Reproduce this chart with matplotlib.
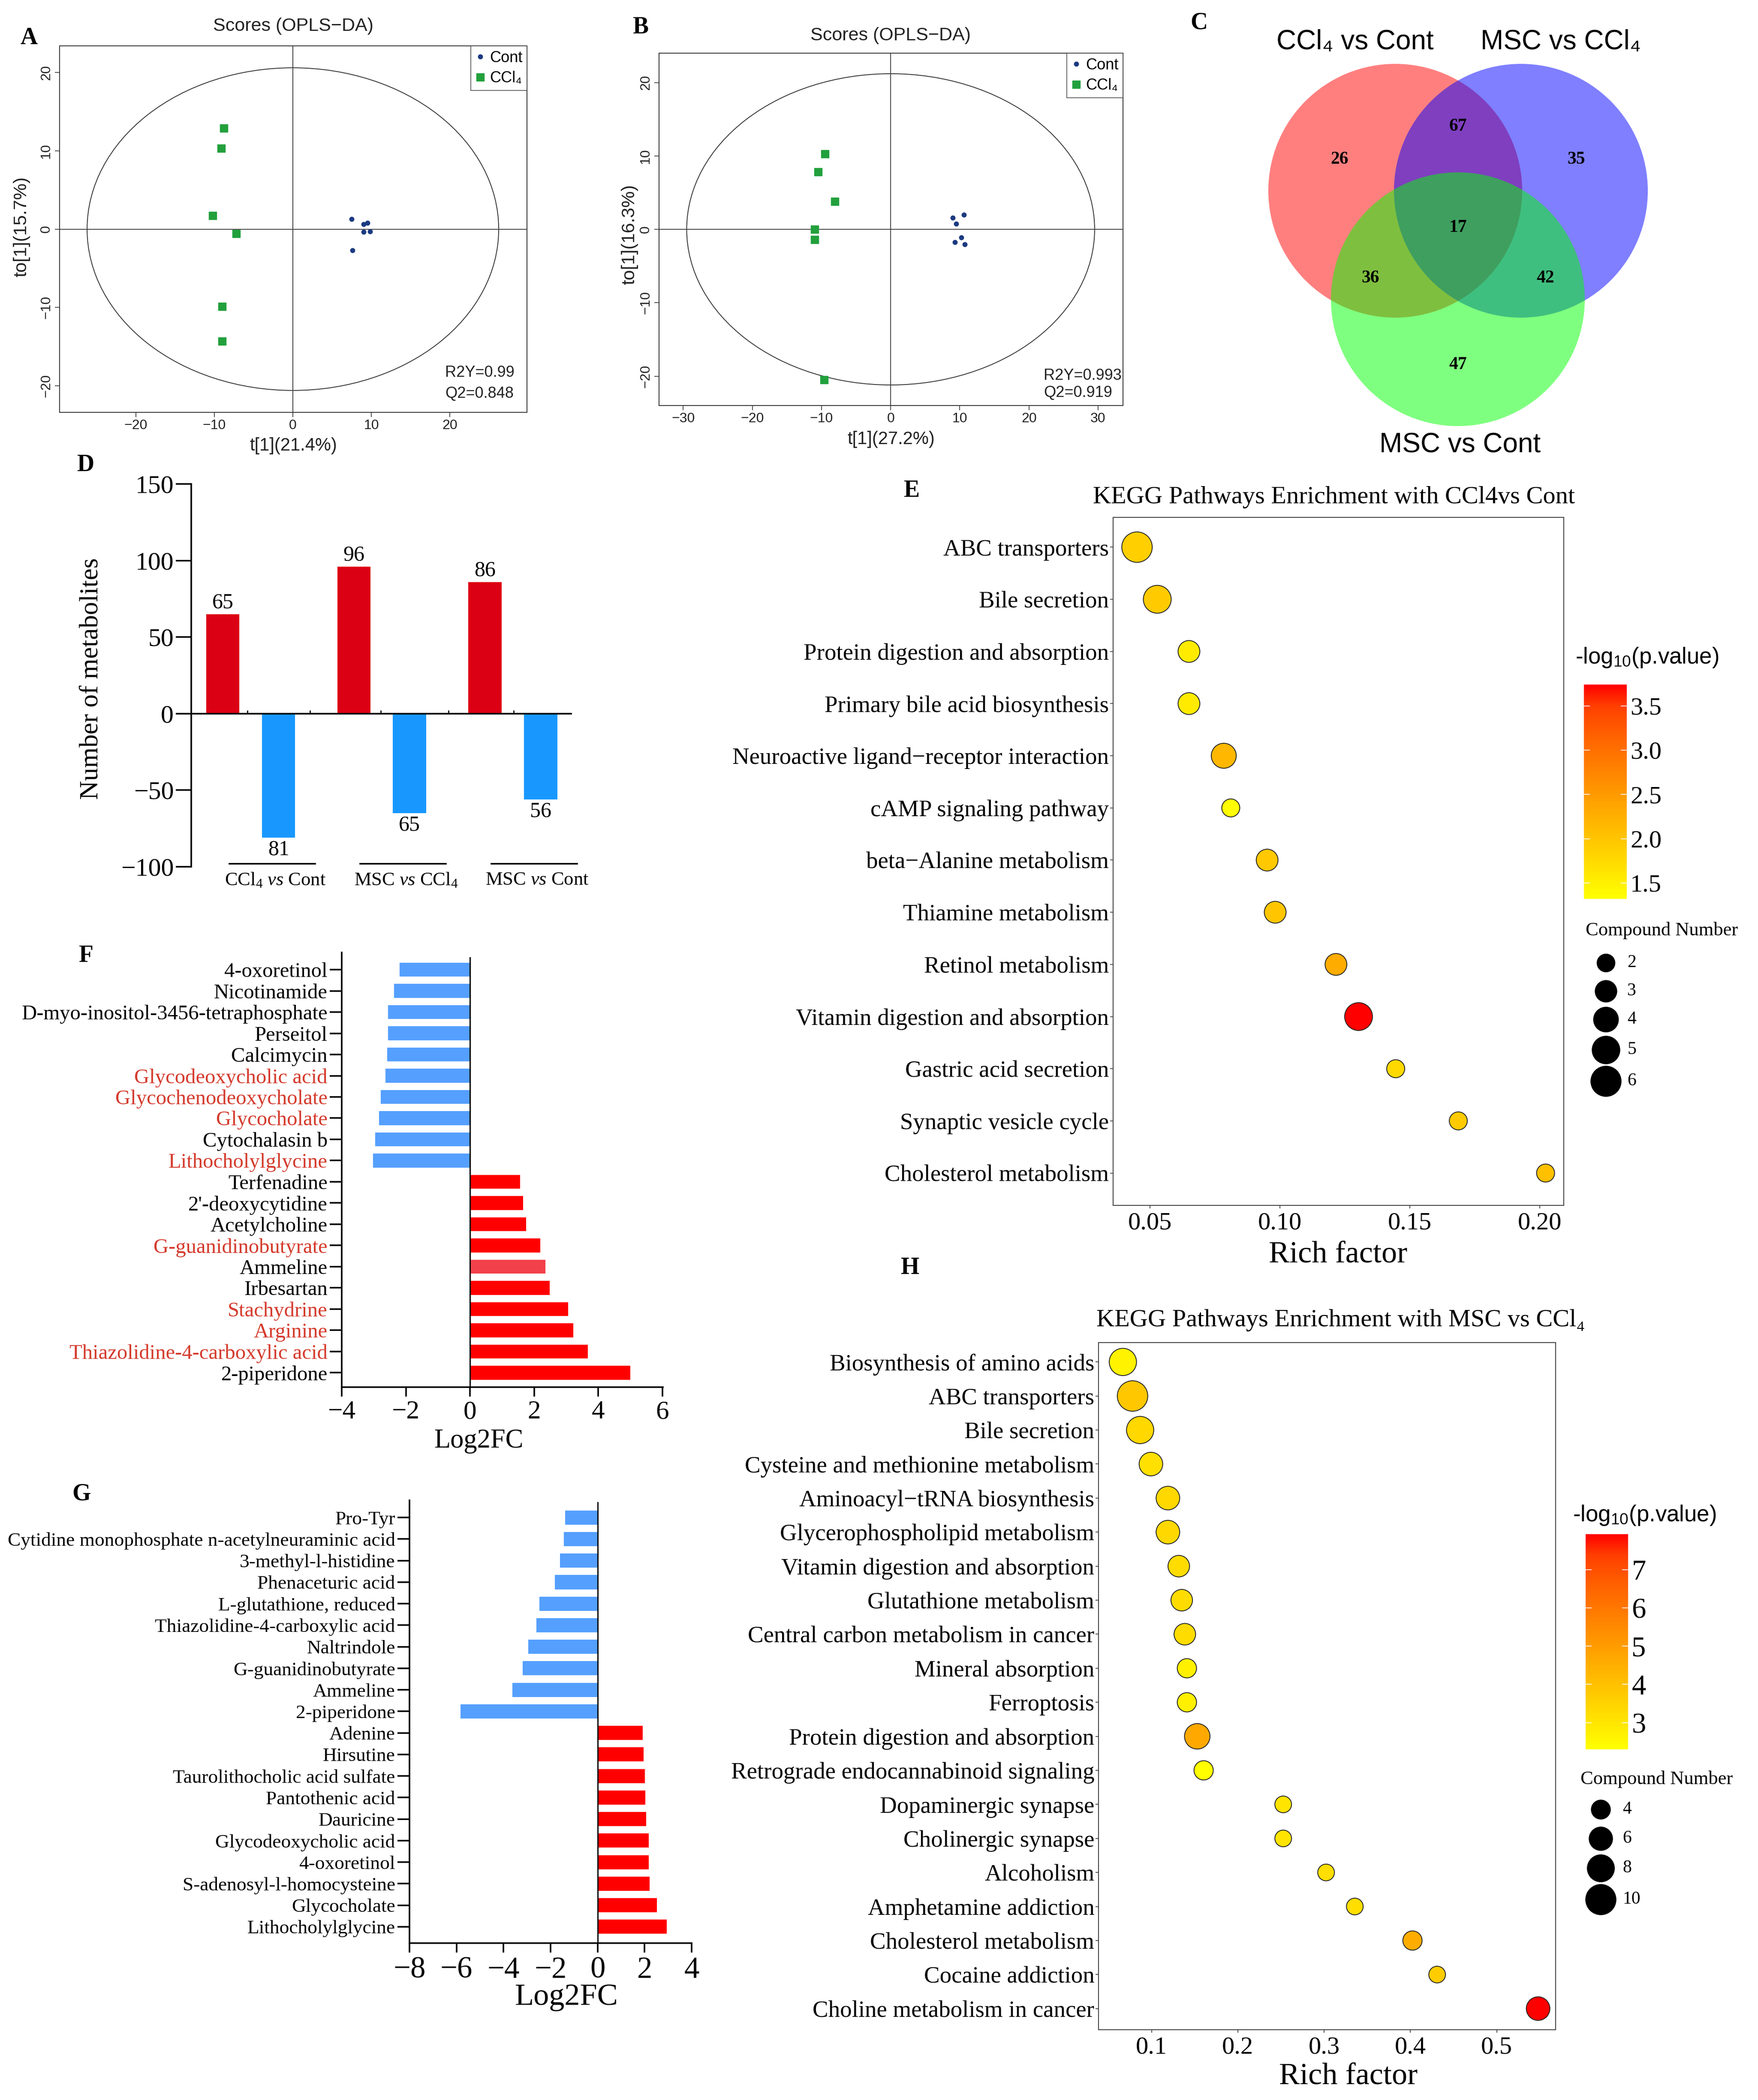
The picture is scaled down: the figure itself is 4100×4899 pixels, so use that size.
import numpy as np
import matplotlib
matplotlib.use('Agg')
import matplotlib.pyplot as plt
from matplotlib.patches import Ellipse, Circle
from matplotlib.colors import LinearSegmentedColormap, Normalize
from matplotlib.cm import ScalarMappable

plt.rcParams['mathtext.fontset'] = 'custom'
plt.rcParams['mathtext.rm'] = 'Liberation Serif'
plt.rcParams['mathtext.it'] = 'Liberation Serif:italic'
plt.rcParams['mathtext.bf'] = 'Liberation Serif:bold'
plt.rcParams['mathtext.sf'] = 'Liberation Sans'
plt.rcParams['axes.unicode_minus'] = True

SANS = ['Liberation Sans', 'DejaVu Sans']
SERIF = ['Liberation Serif', 'DejaVu Serif']

# ---------------- DATA ----------------
# Panel A (OPLS-DA scores, CCl4 vs Cont)
a_cont_x = [7.5, 9.0, 9.5, 9.0, 9.8, 7.6]
a_cont_y = [1.26, 0.63, 0.77, -0.35, -0.28, -2.7]
a_ccl4_x = [-8.8, -9.1, -10.2, -7.2, -9.0, -9.0]
a_ccl4_y = [12.9, 10.3, 1.75, -0.6, -9.9, -14.3]
a_ellipse = (26.2, 20.6)
a_stats = ["R2Y=0.99", "Q2=0.848"]
a_xlabel = "t[1](21.4%)"
a_ylabel = "to[1](15.7%)"

# Panel B
b_cont_x = [10.6, 9.0, 9.5, 10.2, 9.3, 10.7]
b_cont_y = [2.0, 1.56, 0.78, -1.1, -1.75, -2.05]
b_ccl4_x = [-9.5, -10.5, -8.1, -11.0, -11.0, -9.6]
b_ccl4_y = [10.3, 7.8, 3.8, 0.0, -1.4, -20.5]
b_ellipse = (29.5, 21.2)
b_stats = ["R2Y=0.993", "Q2=0.919"]
b_xlabel = "t[1](27.2%)"
b_ylabel = "to[1](16.3%)"

# Panel C (Venn)
venn_sets = ["CCl\u2084 vs Cont", "MSC vs CCl\u2084", "MSC vs Cont"]
venn_counts = {"A": 26, "B": 35, "C": 47, "AB": 67, "AC": 36, "BC": 42, "ABC": 17}

# Panel D
d_groups = [r"CCl$_4$ $\it{vs}$ Cont", r"MSC $\it{vs}$ CCl$_4$", r"MSC $\it{vs}$ Cont"]
d_up = [65, 96, 86]
d_down = [81, 65, 56]

# Panel E
e_names = ["ABC transporters", "Bile secretion", "Protein digestion and absorption",
           "Primary bile acid biosynthesis", "Neuroactive ligand\u2212receptor interaction",
           "cAMP signaling pathway", "beta\u2212Alanine metabolism", "Thiamine metabolism",
           "Retinol metabolism", "Vitamin digestion and absorption", "Gastric acid secretion",
           "Synaptic vesicle cycle", "Cholesterol metabolism"]
e_rich = [0.0450, 0.0528, 0.0650, 0.0650, 0.0784, 0.0811, 0.0951, 0.0982,
          0.1216, 0.1303, 0.1446, 0.1687, 0.2023]
e_count = [6, 5, 3, 3, 4, 2, 3, 3, 3, 5, 2, 2, 2]
e_logp = [1.88, 1.93, 1.56, 1.56, 2.17, 1.35, 1.97, 1.99, 2.29, 3.74, 1.76, 1.93, 2.05]

# Panel F (CCl4 vs Cont)
f_names = ["4-oxoretinol", "Nicotinamide", "D-myo-inositol-3456-tetraphosphate", "Perseitol",
           "Calcimycin", "Glycodeoxycholic acid", "Glycochenodeoxycholate", "Glycocholate",
           "Cytochalasin b", "Lithocholylglycine", "Terfenadine", "2'-deoxycytidine",
           "Acetylcholine", "G-guanidinobutyrate", "Ammeline", "Irbesartan", "Stachydrine",
           "Arginine", "Thiazolidine-4-carboxylic acid", "2-piperidone"]
f_vals = [-2.20, -2.37, -2.56, -2.56, -2.58, -2.63, -2.78, -2.84, -2.95, -3.03,
          1.57, 1.66, 1.75, 2.19, 2.35, 2.49, 3.06, 3.23, 3.68, 5.0]
f_highlight = ["Glycodeoxycholic acid", "Glycochenodeoxycholate", "Glycocholate",
               "Lithocholylglycine", "G-guanidinobutyrate", "Stachydrine", "Arginine",
               "Thiazolidine-4-carboxylic acid"]

# Panel G (MSC vs CCl4)
g_names = ["Pro-Tyr", "Cytidine monophosphate n-acetylneuraminic acid", "3-methyl-l-histidine",
           "Phenaceturic acid", "L-glutathione, reduced", "Thiazolidine-4-carboxylic acid",
           "Naltrindole", "G-guanidinobutyrate", "Ammeline", "2-piperidone", "Adenine",
           "Hirsutine", "Taurolithocholic acid sulfate", "Pantothenic acid", "Dauricine",
           "Glycodeoxycholic acid", "4-oxoretinol", "S-adenosyl-l-homocysteine", "Glycocholate",
           "Lithocholylglycine"]
g_vals = [-1.38, -1.44, -1.59, -1.82, -2.48, -2.61, -2.94, -3.19, -3.63, -5.83,
          1.92, 1.96, 2.02, 2.03, 2.07, 2.17, 2.17, 2.21, 2.53, 2.94]

# Panel H
h_names = ["Biosynthesis of amino acids", "ABC transporters", "Bile secretion",
           "Cysteine and methionine metabolism", "Aminoacyl\u2212tRNA biosynthesis",
           "Glycerophospholipid metabolism", "Vitamin digestion and absorption",
           "Glutathione metabolism", "Central carbon metabolism in cancer", "Mineral absorption",
           "Ferroptosis", "Protein digestion and absorption", "Retrograde endocannabinoid signaling",
           "Dopaminergic synapse", "Cholinergic synapse", "Alcoholism", "Amphetamine addiction",
           "Cholesterol metabolism", "Cocaine addiction", "Choline metabolism in cancer"]
h_rich = [0.0668, 0.0780, 0.0868, 0.0993, 0.1190, 0.1190, 0.1316, 0.1350, 0.1386, 0.1410,
          0.1410, 0.1530, 0.1604, 0.2526, 0.2526, 0.3023, 0.3356, 0.4024, 0.4310, 0.5480]
h_count = [8, 10, 8, 6, 6, 6, 5, 5, 5, 4, 4, 7, 4, 3, 3, 3, 3, 4, 3, 6]
h_logp = [2.64, 3.82, 3.37, 3.14, 3.37, 3.37, 3.25, 3.25, 3.25, 2.70, 2.70, 4.66, 2.32,
          3.03, 3.03, 3.20, 3.20, 4.55, 3.70, 7.93]

# ---------------- FIGURE ----------------
W, H = 4100, 4899
fig = plt.figure(figsize=(W / 100, H / 100), dpi=100)
fig.patch.set_facecolor('white')

ov = fig.add_axes([0, 0, 1, 1])
ov.set_xlim(0, W)
ov.set_ylim(H, 0)
ov.axis('off')


def px_axes(l, t, r, b):
    return fig.add_axes([l / W, 1 - b / H, (r - l) / W, (b - t) / H])


def otext(x, y, s, size, family=SERIF, ha='center', va='center', **kw):
    ov.text(x, y, s, fontsize=size, family=family, ha=ha, va=va, **kw)


# panel letters
for lab, (x, y) in {"A": (67, 89), "B": (1494, 64), "C": (2796, 53), "D": (199, 1085),
                    "E": (2126, 1145), "F": (201, 2230), "G": (190, 3486),
                    "H": (2123, 2958)}.items():
    otext(x, y, lab, 40, weight='bold')

NAVY = '#1B3A80'
GREEN = '#22A03C'


def opls(box, cx, cy, gx, gy, ell, stats, xlab, ylab, xlim, ylim, xticks, title_xy,
         xlab_xy, ylab_xy, stat_x, stat_y, leg_anchor):
    ax = px_axes(*box)
    ax.set_xlim(*xlim)
    ax.set_ylim(*ylim)
    ax.add_patch(Ellipse((0, 0), 2 * ell[0], 2 * ell[1], fill=False, ec='#333333', lw=1.4))
    ax.axhline(0, color='#444444', lw=1.4)
    ax.axvline(0, color='#444444', lw=1.4)
    ax.plot(cx, cy, 'o', color=NAVY, ms=7.5, ls='none', label='Cont')
    ax.plot(gx, gy, 's', color=GREEN, ms=13, ls='none', label='CCl\u2084')
    for sp in ax.spines.values():
        sp.set_color('#333333')
        sp.set_linewidth(1.4)
    ax.set_xticks(xticks)
    ax.set_yticks([-20, -10, 0, 10, 20])
    ax.tick_params(labelsize=23, length=8, width=1.2, color='#333333', labelcolor='#222222')
    for t in ax.get_yticklabels():
        t.set_rotation(90)
        t.set_va('center')
    for t in ax.get_xticklabels() + ax.get_yticklabels():
        t.set_family(SANS)
    leg = ax.legend(loc='upper right', bbox_to_anchor=leg_anchor, prop={'family': SANS, 'size': 26},
                    frameon=True, fancybox=False, edgecolor='#333333', handlelength=0.6,
                    handletextpad=0.3, borderpad=0.3, labelspacing=0.35, borderaxespad=0,
                    markerscale=1.0)
    leg.get_frame().set_linewidth(1.3)
    for s, yy in zip(stats, stat_y):
        ax.text(stat_x, yy, s, transform=ax.transAxes, ha='left', va='center',
                fontsize=26, family=SANS, color='#222222')
    otext(title_xy[0], title_xy[1], "Scores (OPLS\u2212DA)", 31, family=SANS, color='#222222')
    otext(xlab_xy[0], xlab_xy[1], xlab, 30, family=SANS, color='#222222')
    otext(ylab_xy[0], ylab_xy[1], ylab, 31, family=SANS, rotation=90, color='#222222')
    return ax


opls((139, 107, 1229, 962), a_cont_x, a_cont_y, a_ccl4_x, a_ccl4_y, a_ellipse, a_stats,
     a_xlabel, a_ylabel, (-29.7, 29.8), (-23.4, 23.4), [-20, -10, 0, 10, 20],
     (684, 61), (684, 1040), (50, 529), 0.825, [0.108, 0.051], (1.0, 1.0))
opls((1537, 124, 2619, 946), b_cont_x, b_cont_y, b_ccl4_x, b_ccl4_y, b_ellipse, b_stats,
     b_xlabel, b_ylabel, (-33.5, 33.6), (-24.0, 24.0), [-30, -20, -10, 0, 10, 20, 30],
     (2077, 83), (2078, 1025), (1468, 547), 0.829, [0.085, 0.036], (1.0, 1.0))

# ---------------- Panel C: Venn ----------------
axC = px_axes(2680, 0, 4100, 1100)
axC.set_xlim(2680, 4100)
axC.set_ylim(1100, 0)
axC.axis('off')
R = 296
centers = {"A": (3254, 445), "B": (3547, 445), "C": (3400, 698)}
for key, col in zip("ABC", ['#FF0000', '#0000FF', '#00FF00']):
    axC.add_patch(Circle(centers[key], R, fc=col, ec='none', alpha=0.5))
label_pos = {"A": (3124, 372), "B": (3676, 372), "C": (3400, 851), "AB": (3400, 295),
             "AC": (3196, 649), "BC": (3604, 649), "ABC": (3400, 531)}
for k, v in venn_counts.items():
    axC.text(*label_pos[k], str(v), ha='center', va='center', fontsize=30,
             family=SERIF, weight='bold')
axC.text(3160, 98, venn_sets[0], ha='center', va='center', fontsize=46, family=SANS)
axC.text(3640, 98, venn_sets[1], ha='center', va='center', fontsize=46, family=SANS)
axC.text(3405, 1039, venn_sets[2], ha='center', va='center', fontsize=46, family=SANS)

# ---------------- Panel D ----------------
axD = px_axes(446, 1129, 1332, 2022)
axD.set_ylim(-100, 150)
axD.set_xlim(-0.61, 6.48)
gc = 0.5 + 2.445 * np.arange(len(d_groups))
RED_D, BLUE_D = '#DC0014', '#1898FF'
axD.bar(gc - 0.52, d_up, width=0.62, color=RED_D)
axD.bar(gc + 0.52, [-v for v in d_down], width=0.62, color=BLUE_D)
for x, v in zip(gc - 0.52, d_up):
    axD.text(x, v + 1, str(v), ha='center', va='bottom', fontsize=36, family=SERIF)
for x, v in zip(gc + 0.52, d_down):
    axD.text(x, -v - 1.5, str(v), ha='center', va='top', fontsize=36, family=SERIF)
axD.spines['top'].set_visible(False)
axD.spines['right'].set_visible(False)
axD.spines['bottom'].set_position(('data', 0))
axD.spines['left'].set_linewidth(2.6)
axD.spines['bottom'].set_linewidth(2.6)
axD.set_yticks([-100, -50, 0, 50, 100, 150])
axD.tick_params(axis='y', labelsize=43, length=26, width=2.6)
for t in axD.get_yticklabels():
    t.set_family(SERIF)
axD.set_xticks([0.44, 1.61, 2.93, 4.19, 5.41])
axD.tick_params(axis='x', direction='in', length=6, width=2, labelbottom=False)
for i, g in enumerate(d_groups):
    c = gc[i] + 0.4
    axD.plot([c - 0.8, c + 0.8], [-98, -98], color='black', lw=2.6, clip_on=False)
    axD.text(c + 0.06, -103, g, ha='center', va='top', fontsize=32, family=SERIF)
otext(213, 1583, "Number of metabolites", 44, rotation=90)

# ---------------- Enrichment bubble plots ----------------
cmap = LinearSegmentedColormap.from_list('yr', [(0, '#FFFF00'), (0.25, '#FFCB00'),
                                               (0.5, '#FF9800'), (0.75, '#FF6400'),
                                               (0.9, '#FF4000'), (1.0, '#FF0000')])


def bubble(box, names, rich, count, logp, vmin, vmax, xlim, xticks, xticklabels, sizefun,
           ylab_size, tick_size, cbox, cticks, ctick_size, ctitle_xy, leg_title_xy,
           leg_vals, leg_x, leg_ys, leg_lab_x, title, title_xy, xlab_xy):
    ax = px_axes(*box)
    n = len(names)
    norm = Normalize(vmin, vmax)
    s = [(sizefun(c) * 0.72) ** 2 for c in count]
    ax.scatter(rich, np.arange(n), s=s, c=logp, cmap=cmap, norm=norm,
               edgecolors='#222222', linewidths=1.4, zorder=3)
    ax.set_xlim(*xlim)
    ax.set_ylim(n - 1 + 0.62, -0.57)
    ax.set_yticks(np.arange(n))
    ax.set_yticklabels(names)
    ax.set_xticks(xticks)
    ax.set_xticklabels(xticklabels)
    ax.tick_params(axis='y', labelsize=ylab_size, length=5, width=1.2, color='#333333', pad=2)
    ax.tick_params(axis='x', labelsize=tick_size, length=5, width=1.2, color='#333333', pad=6)
    for t in ax.get_xticklabels() + ax.get_yticklabels():
        t.set_family(SERIF)
    for sp in ax.spines.values():
        sp.set_color('#444444')
        sp.set_linewidth(1.5)
    # colorbar
    cax = px_axes(*cbox)
    cb = fig.colorbar(ScalarMappable(norm=norm, cmap=cmap), cax=cax)
    cb.outline.set_visible(False)
    cb.set_ticks(cticks)
    cb.ax.tick_params(direction='in', color='white', length=10, width=1.2, left=True,
                      right=True, labelsize=ctick_size, pad=6)
    for t in cb.ax.get_yticklabels():
        t.set_family(SERIF)
    otext(ctitle_xy[0], ctitle_xy[1], r'-log$_{\mathsf{10}}$(p.value)', 38, family=SANS, ha='left')
    otext(leg_title_xy[0], leg_title_xy[1], "Compound Number", 32, ha='left')
    for v, yy in zip(leg_vals, leg_ys):
        ov.scatter([leg_x], [yy], s=(sizefun(v) * 0.72) ** 2, color='black', zorder=5)
        otext(leg_lab_x, yy, str(v), 30, ha='left')
    otext(title_xy[0], title_xy[1], title, 42)
    otext(xlab_xy[0], xlab_xy[1], "Rich factor", 52)


bubble((2596, 1207, 3647, 2812), e_names, e_rich, e_count, e_logp, 1.32, 3.74,
       (0.0358, 0.2093), [0.05, 0.10, 0.15, 0.20], ["0.05", "0.10", "0.15", "0.20"],
       lambda c: np.sqrt(126 + 819 * c), 39.5, 42,
       (3694, 1597, 3794, 2097), [1.5, 2.0, 2.5, 3.0, 3.5], 42, (3674, 1534), (3698, 2171),
       [2, 3, 4, 5, 6], 3745, [2246, 2312, 2378, 2449, 2522], 3795,
       "KEGG Pathways Enrichment with CCl4vs Cont", (3111, 1160), (3121, 2928))

bubble((2562, 3132, 3628, 4735), h_names, h_rich, h_count, h_logp, 2.30, 7.93,
       (0.0386, 0.5683), [0.1, 0.2, 0.3, 0.4, 0.5], ["0.1", "0.2", "0.3", "0.4", "0.5"],
       lambda c: np.sqrt(505 * c), 39.5, 42,
       (3698, 3579, 3797, 4081), [3, 4, 5, 6, 7], 48, (3668, 3535), (3686, 4151),
       [4, 6, 8, 10], 3733, [4221, 4289, 4358, 4431], 3784,
       "KEGG Pathways Enrichment with MSC vs CCl\u2084", (3127, 3080), (3145, 4845))

# ---------------- Log2FC bar panels ----------------
BLUE_F, RED_F = '#559FFF', '#FF0000'
LABEL_RED = '#D43A2C'


def fcbars(box, names, vals, xlim, xticks, ylim_top, ylim_bot, zero_top, lab_size, tick_size,
           xlab_xy, xlab_size, highlight=(), special=None):
    ax = px_axes(*box)
    n = len(names)
    y = np.arange(n)
    cols = []
    for nm, v in zip(names, vals):
        if special and nm in special and v > 0:
            cols.append(special[nm])
        else:
            cols.append(BLUE_F if v < 0 else RED_F)
    ax.barh(y, vals, height=0.66, color=cols, zorder=2)
    ax.set_xlim(*xlim)
    ax.set_ylim(n - 1 + ylim_bot, -ylim_top)
    ax.plot([0, 0], [-zero_top, n - 1 + ylim_bot], color='black', lw=2.2, zorder=3)
    ax.spines['top'].set_visible(False)
    ax.spines['right'].set_visible(False)
    ax.spines['left'].set_linewidth(2.6)
    ax.spines['bottom'].set_linewidth(2.6)
    ax.set_yticks(y)
    ax.set_yticklabels(names)
    ax.set_xticks(xticks)
    ax.tick_params(axis='y', labelsize=lab_size, length=20, width=2.6, pad=4)
    ax.tick_params(axis='x', labelsize=tick_size, length=16, width=2.6, pad=6)
    for t in ax.get_xticklabels() + ax.get_yticklabels():
        t.set_family(SERIF)
    for t in ax.get_yticklabels():
        if t.get_text() in highlight:
            t.set_color(LABEL_RED)
    otext(xlab_xy[0], xlab_xy[1], "Log2FC", xlab_size)
    return ax


fcbars((797, 2222, 1546, 3236), f_names, f_vals, (-4, 6.02), [-4, -2, 0, 2, 4, 6],
       0.81, 0.68, 0.56, 35, 44, (1116, 3362), 45, highlight=f_highlight,
       special={"Ammeline": '#F2414A'})
fcbars((955, 3500, 1613, 4533), g_names, g_vals, (-8, 4), [-8, -6, -4, -2, 0, 2, 4],
       0.8, 0.76, 0.7, 32.7, 51, (1321, 4660), 52)

fig.savefig('out.png', dpi=100, facecolor='white')
